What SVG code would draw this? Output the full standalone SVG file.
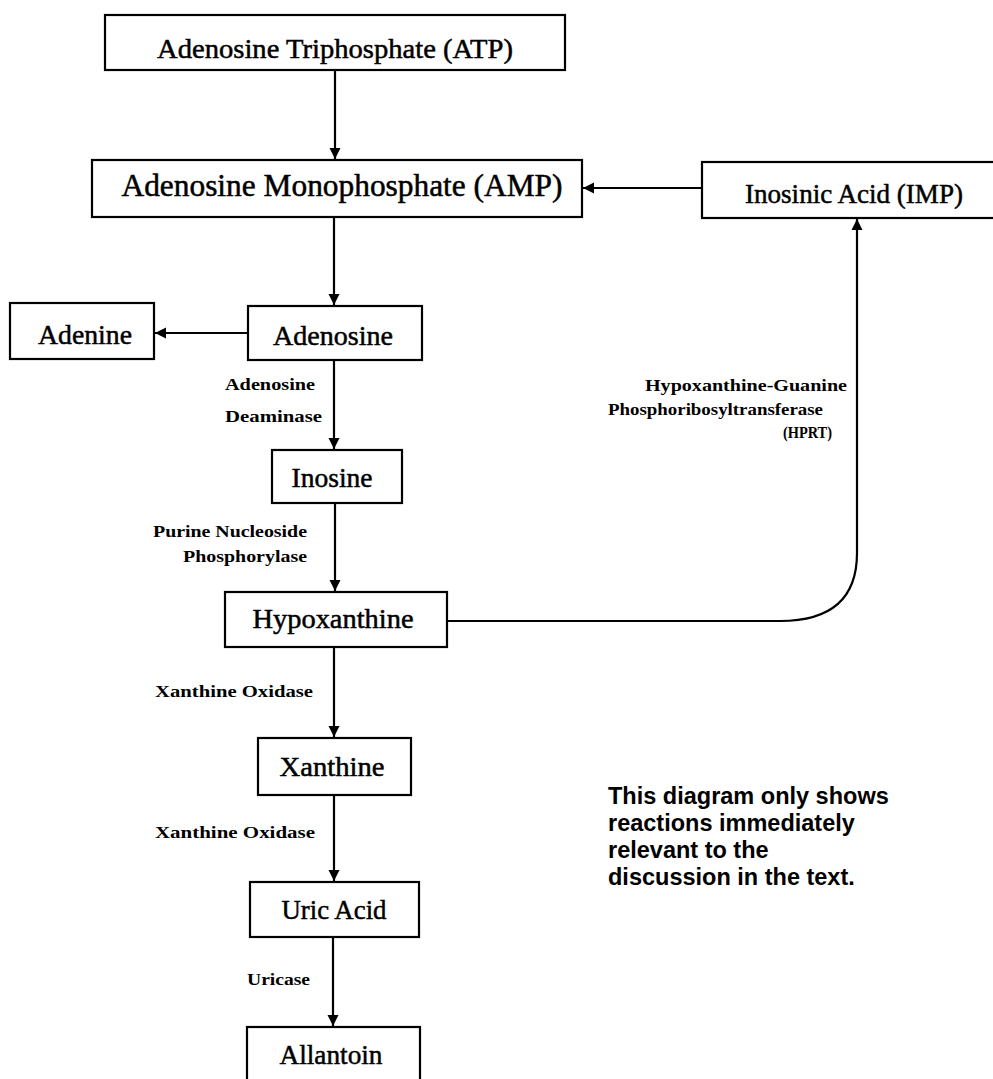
<svg xmlns="http://www.w3.org/2000/svg" width="993" height="1079" viewBox="0 0 993 1079">
<style>
.box{fill:#fff;stroke:#000;stroke-width:2.2}
.nt{font-family:"Liberation Serif","Times New Roman",serif;font-size:28px;fill:#000;stroke:#000;stroke-width:0.5;text-anchor:middle}
.lb{font-family:"Liberation Serif","Times New Roman",serif;font-size:16px;font-weight:bold;fill:#000}
.note{font-family:"Liberation Sans",Arial,sans-serif;font-size:23.5px;font-weight:bold;fill:#000}
.cn{fill:none;stroke:#000;stroke-width:2.2}
</style>
<defs>
<marker id="ah" markerUnits="userSpaceOnUse" markerWidth="12" markerHeight="12" viewBox="0 0 12 12" refX="11" refY="6" orient="auto">
<path d="M0,0.5 L11,6 L0,11.5 Z" fill="#000"/>
</marker>
</defs>
<rect width="993" height="1079" fill="#fff"/>
<g id="connectors">
<path class="cn" d="M335,70 V159" marker-end="url(#ah)"/>
<path class="cn" d="M702,188 H583" marker-end="url(#ah)"/>
<path class="cn" d="M334,217 V305" marker-end="url(#ah)"/>
<path class="cn" d="M248,333 H155" marker-end="url(#ah)"/>
<path class="cn" d="M334,360 V449" marker-end="url(#ah)"/>
<path class="cn" d="M335,503 V591" marker-end="url(#ah)"/>
<path class="cn" d="M334,647 V737" marker-end="url(#ah)"/>
<path class="cn" d="M334,795 V881" marker-end="url(#ah)"/>
<path class="cn" d="M333,937 V1026" marker-end="url(#ah)"/>
<path class="cn" d="M447,621 H780 C832,621 857,598 857,553 V219" marker-end="url(#ah)"/>
</g>
<g id="atp"><rect class="box" x="105" y="15" width="460" height="55"/><text class="nt" x="335" y="58" textLength="356" lengthAdjust="spacingAndGlyphs">Adenosine Triphosphate (ATP)</text></g>
<g id="amp"><rect class="box" x="92" y="160" width="490" height="57"/><text class="nt" x="342" y="196" style="font-size:31px" textLength="441" lengthAdjust="spacingAndGlyphs">Adenosine Monophosphate (AMP)</text></g>
<g id="imp"><rect class="box" x="702" y="162" width="300" height="56"/><text class="nt" x="854" y="203" textLength="218" lengthAdjust="spacingAndGlyphs">Inosinic Acid (IMP)</text></g>
<g id="adenine"><rect class="box" x="10" y="303" width="144" height="56"/><text class="nt" x="85" y="344" textLength="94" lengthAdjust="spacingAndGlyphs">Adenine</text></g>
<g id="adenosine"><rect class="box" x="248" y="306" width="174" height="54"/><text class="nt" x="333" y="345" textLength="120" lengthAdjust="spacingAndGlyphs">Adenosine</text></g>
<g id="inosine"><rect class="box" x="272" y="450" width="130" height="53"/><text class="nt" x="332" y="487" textLength="81" lengthAdjust="spacingAndGlyphs">Inosine</text></g>
<g id="hypoxanthine"><rect class="box" x="225" y="592" width="222" height="55"/><text class="nt" x="333" y="628" textLength="161" lengthAdjust="spacingAndGlyphs">Hypoxanthine</text></g>
<g id="xanthine"><rect class="box" x="258" y="738" width="153" height="57"/><text class="nt" x="332" y="776" textLength="105" lengthAdjust="spacingAndGlyphs">Xanthine</text></g>
<g id="uric-acid"><rect class="box" x="250" y="882" width="169" height="55"/><text class="nt" x="334" y="919" textLength="105" lengthAdjust="spacingAndGlyphs">Uric Acid</text></g>
<g id="allantoin"><rect class="box" x="247" y="1027" width="173" height="60"/><text class="nt" x="331" y="1064" textLength="103" lengthAdjust="spacingAndGlyphs">Allantoin</text></g>
<g id="labels">
<text class="lb" x="225" y="390" textLength="90" lengthAdjust="spacingAndGlyphs">Adenosine</text>
<text class="lb" x="225" y="422" textLength="97" lengthAdjust="spacingAndGlyphs">Deaminase</text>
<text class="lb" x="153" y="537" textLength="154" lengthAdjust="spacingAndGlyphs">Purine Nucleoside</text>
<text class="lb" x="183" y="562" textLength="124" lengthAdjust="spacingAndGlyphs">Phosphorylase</text>
<text class="lb" x="645" y="391" textLength="202" lengthAdjust="spacingAndGlyphs">Hypoxanthine-Guanine</text>
<text class="lb" x="608" y="415" textLength="215" lengthAdjust="spacingAndGlyphs">Phosphoribosyltransferase</text>
<text class="lb" x="783" y="438" textLength="49" lengthAdjust="spacingAndGlyphs">(HPRT)</text>
<text class="lb" x="155" y="697" textLength="158" lengthAdjust="spacingAndGlyphs">Xanthine Oxidase</text>
<text class="lb" x="155" y="838" textLength="160" lengthAdjust="spacingAndGlyphs">Xanthine Oxidase</text>
<text class="lb" x="247" y="985" textLength="63" lengthAdjust="spacingAndGlyphs">Uricase</text>
</g>
<g id="note">
<text class="note" x="608" y="804">This diagram only shows</text>
<text class="note" x="608" y="831">reactions immediately</text>
<text class="note" x="608" y="858">relevant to the</text>
<text class="note" x="608" y="885">discussion in the text.</text>
</g>
</svg>
